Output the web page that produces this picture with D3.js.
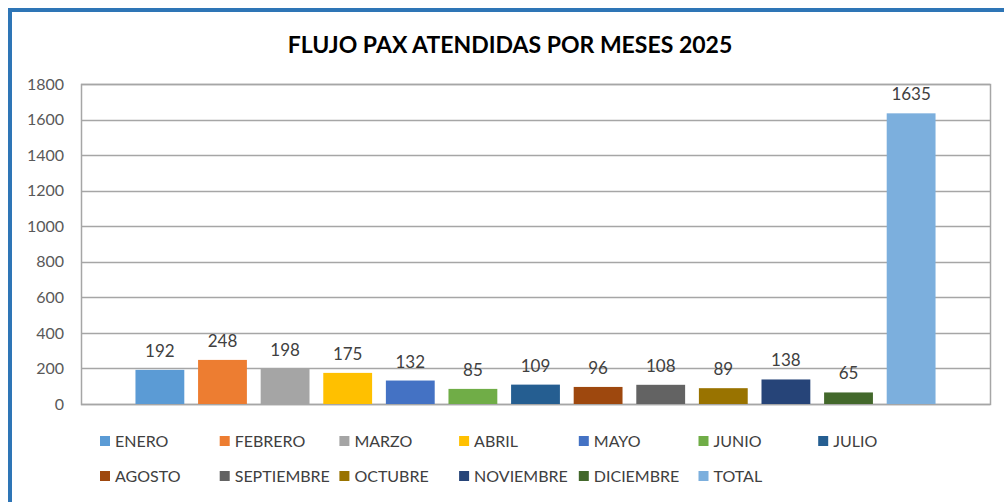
<!DOCTYPE html>
<html>
<head>
<meta charset="utf-8">
<script src="https://cdn.jsdelivr.net/npm/d3@7"></script>
<style>
  body { margin: 0; background: #fff; }
  svg { display: block; font-family: Lato, "Liberation Sans", sans-serif; }
</style>
</head>
<body>
<svg id="chart"></svg>
<script>
const months = ['ENERO', 'FEBRERO', 'MARZO', 'ABRIL', 'MAYO', 'JUNIO', 'JULIO',
    'AGOSTO', 'SEPTIEMBRE', 'OCTUBRE', 'NOVIEMBRE', 'DICIEMBRE', 'TOTAL'];
const pax = [192, 248, 198, 175, 132, 85, 109, 96, 108, 89, 138, 65, 1635];
const colors = ['#5b9bd5', '#ed7d31', '#a5a5a5', '#ffc000', '#4472c4', '#70ad47', '#255e91',
    '#9e480e', '#636363', '#997300', '#264478', '#43682b', '#7cafdd'];
const yTicks = [0, 200, 400, 600, 800, 1000, 1200, 1400, 1600, 1800];
const title = 'FLUJO PAX ATENDIDAS POR MESES 2025';

const width = 1004, height = 502;
const plot = { left: 81, right: 990, top: 84, bottom: 404 };

const svg = d3.select('#chart')
    .attr('width', width)
    .attr('height', height);

// blue frame (only top and left visible)
svg.append('path')
    .attr('d', `M10,${height} V10 H${width}`)
    .attr('fill', 'none')
    .attr('stroke', '#2e75b6')
    .attr('stroke-width', 4);

svg.append('text')
    .attr('x', 510)
    .attr('y', 53)
    .attr('text-anchor', 'middle')
    .attr('font-size', 23)
    .attr('font-weight', 'bold')
    .attr('fill', '#000')
    .text(title);

const x = d3.scaleBand()
    .domain(months)
    .range([plot.left, plot.right])
    .paddingInner(0.22)
    .paddingOuter(0.87);

const y = d3.scaleLinear()
    .domain([0, 1800])
    .range([plot.bottom, plot.top]);

// gridlines
svg.append('g')
    .selectAll('line')
    .data(yTicks)
    .join('line')
    .attr('x1', plot.left)
    .attr('x2', plot.right)
    .attr('y1', d => Math.round(y(d)) + 0.5)
    .attr('y2', d => Math.round(y(d)) + 0.5)
    .attr('stroke', '#a6a6a6')
    .attr('stroke-width', 1.5);

// plot area border
svg.append('rect')
    .attr('x', plot.left + 0.5)
    .attr('y', plot.top + 0.5)
    .attr('width', plot.right - plot.left)
    .attr('height', plot.bottom - plot.top)
    .attr('fill', 'none')
    .attr('stroke', '#a6a6a6')
    .attr('stroke-width', 1.5);

// y axis labels
const yAxis = d3.axisLeft(y)
    .tickValues(yTicks)
    .tickFormat(d3.format('d'))
    .tickSize(0)
    .tickPadding(17);

svg.append('g')
    .attr('transform', `translate(${plot.left}, 0)`)
    .call(yAxis)
    .call(g => g.select('.domain').remove())
    .call(g => g.selectAll('text')
        .attr('font-size', 16)
        .attr('font-family', 'Lato, "Liberation Sans", sans-serif')
        .attr('fill', '#595959'));

const data = months.map((m, i) => ({ m, v: pax[i], c: colors[i] }));

svg.append('g')
    .selectAll('rect')
    .data(data)
    .join('rect')
    .attr('x', d => x(d.m))
    .attr('y', d => y(d.v))
    .attr('width', x.bandwidth())
    .attr('height', d => y(0) - y(d.v))
    .attr('fill', d => d.c);

svg.append('g')
    .selectAll('text')
    .data(data)
    .join('text')
    .attr('x', d => x(d.m) + x.bandwidth() / 2)
    .attr('y', d => y(d.v) - 13)
    .attr('text-anchor', 'middle')
    .attr('font-size', 17)
    .attr('fill', '#404040')
    .text(d => d.v);

// legend: 7 per row
const legend = svg.append('g')
    .selectAll('g')
    .data(data)
    .join('g')
    .attr('transform', (d, i) => `translate(${100 + (i % 7) * 119.7}, ${i < 7 ? 441 : 476})`);

legend.append('rect')
    .attr('x', 0)
    .attr('y', -5)
    .attr('width', 10)
    .attr('height', 10)
    .attr('fill', d => d.c);

legend.append('text')
    .attr('x', 15)
    .attr('y', 6)
    .attr('font-size', 16)
    .attr('fill', '#404040')
    .text(d => d.m);
</script>
</body>
</html>
